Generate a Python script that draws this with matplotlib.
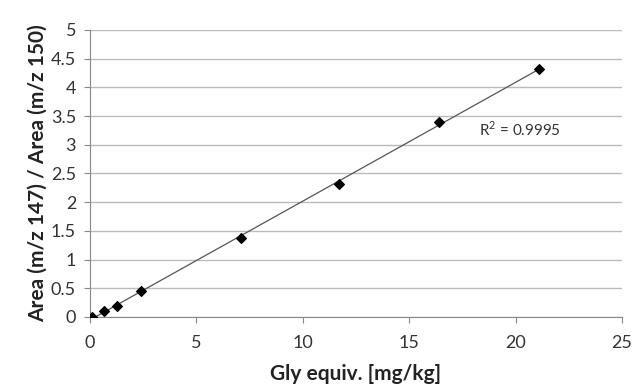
import matplotlib
matplotlib.use("Agg")
import matplotlib.pyplot as plt
import numpy as np

gly = [0.1, 0.65, 1.25, 2.4, 7.1, 11.7, 16.4, 21.1]
ratio = [0.0, 0.1, 0.2, 0.45, 1.37, 2.32, 3.39, 4.32]
r2_label = "R$^2$ = 0.9995"

plt.rcParams["font.family"] = ["Lato", "DejaVu Sans"]
plt.rcParams["mathtext.fontset"] = "custom"
plt.rcParams["mathtext.rm"] = "Lato"

fig = plt.figure(figsize=(6.32, 3.84), dpi=100)
ax = fig.add_axes([0.1424, 0.1745, 0.8416, 0.7475])

# trendline
k, b = np.polyfit(gly, ratio, 1)
xs = np.array([0, max(gly)])
ax.plot(xs, k * xs + b, color="#555555", lw=0.9, zorder=2)
ax.scatter(gly, ratio, marker="D", s=24, color="black", zorder=3)

ax.set_xlim(0, 25)
ax.set_ylim(0, 5)
ax.set_xticks(np.arange(0, 26, 5))
ax.set_yticks(np.arange(0, 5.01, 0.5))
ax.set_yticklabels(["0", "0.5", "1", "1.5", "2", "2.5", "3", "3.5", "4", "4.5", "5"])
ax.yaxis.grid(True, color="#bbbbbb", lw=1)
ax.set_axisbelow(True)
for s in ["top", "right"]:
    ax.spines[s].set_visible(False)
for s in ["left", "bottom"]:
    ax.spines[s].set_color("#888888")
ax.tick_params(colors="#888888", labelcolor="#333333", labelsize=13, length=4)
ax.tick_params(axis="x", pad=9)
ax.tick_params(axis="y", pad=6)

ax.text(18.3, 3.26, r2_label, fontsize=11, va="center", color="#333333")
ax.set_xlabel("Gly equiv. [mg/kg]", fontsize=15, fontweight="bold", color="#222222", labelpad=9)
ax.set_ylabel("Area (m/z 147) / Area (m/z 150)", fontsize=15, fontweight="bold", color="#222222", labelpad=2)

fig.savefig("out.png", dpi=100)
